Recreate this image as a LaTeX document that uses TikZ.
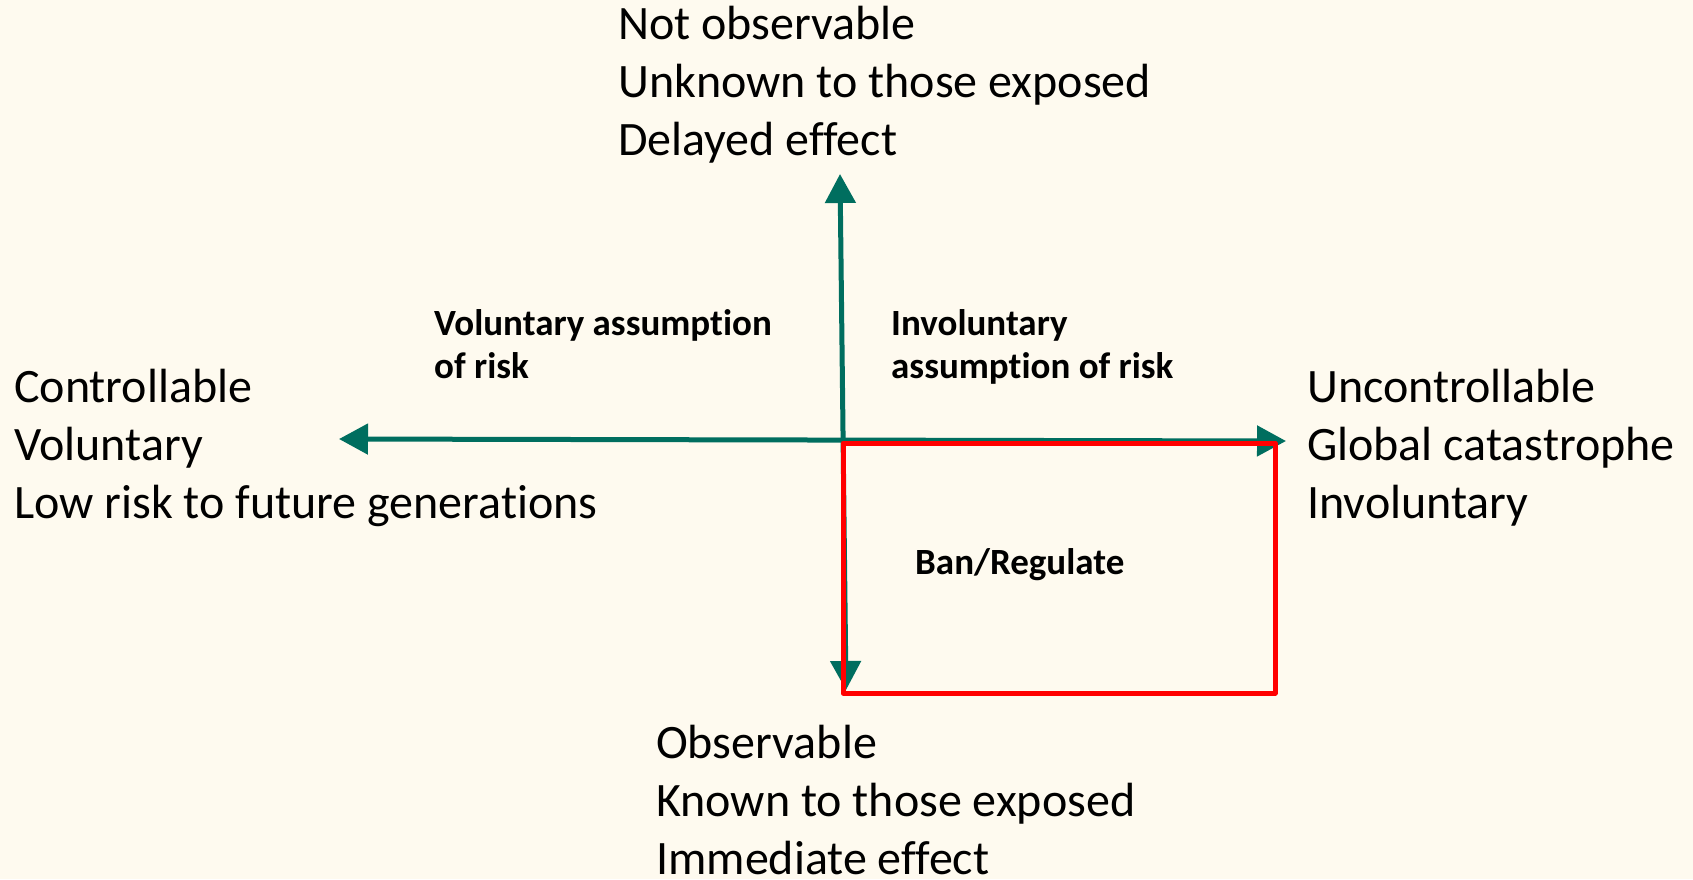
\documentclass[tikz,border=0pt]{standalone}
\usepackage{fontspec}
\setmainfont{Carlito}[Ligatures={NoCommon}]
\usetikzlibrary{arrows.meta}
\definecolor{bgcream}{RGB}{254,250,239}
\definecolor{axisteal}{RGB}{0,110,95}
\definecolor{boxred}{RGB}{255,0,0}
\begin{document}
\begin{tikzpicture}[x=1pt,y=-1pt,
  big/.style={anchor=base west, inner sep=0pt, font=\fontsize{48}{58}\selectfont},
  lbl/.style={anchor=base west, inner sep=0pt, font=\bfseries\fontsize{37}{43}\selectfont},
  axis/.style={draw=axisteal, line width=5pt, {Triangle[length=29pt,width=30pt]}-{Triangle[length=29pt,width=30pt]}},
  banbox/.style={draw=boxred, line width=5pt, line join=round}]
\fill[bgcream] (0,0) rectangle (1693,879);
\useasboundingbox (0,0) rectangle (1693,879);
% axis end points
\coordinate (L) at (339,439);
\coordinate (R) at (1286,441);
\coordinate (T) at (840,174);
\coordinate (B) at (846,690);
\draw[axis] (L) -- (R);
\draw[axis] (B) -- (T);
% red region
\coordinate (rA) at (843,443);
\coordinate (rB) at (1275,693);
\draw[banbox] (rA) rectangle (rB);
% texts
\node[big] (top) at (618,39) {\begin{tabular}[t]{@{}l@{}}Not observable\\Unknown to those exposed\\Delayed effect\end{tabular}};
\node[big] (left) at (14,402) {\begin{tabular}[t]{@{}l@{}}Controllable\\Voluntary\\Low risk to future generations\end{tabular}};
\node[big] (right) at (1307,402) {\begin{tabular}[t]{@{}l@{}}Uncontrollable\\Global catastrophe\\Involuntary\end{tabular}};
\node[big] (bottom) at (656,758) {\begin{tabular}[t]{@{}l@{}}Observable\\Known to those exposed\\Immediate effect\end{tabular}};
\node[lbl] (vol) at (434,335) {\begin{tabular}[t]{@{}l@{}}Voluntary assumption\\of risk\end{tabular}};
\node[lbl] (invol) at (891,335) {\begin{tabular}[t]{@{}l@{}}Involuntary\\assumption of risk\end{tabular}};
\node[lbl] (ban) at (915,574) {Ban/Regulate};
\end{tikzpicture}
\end{document}
